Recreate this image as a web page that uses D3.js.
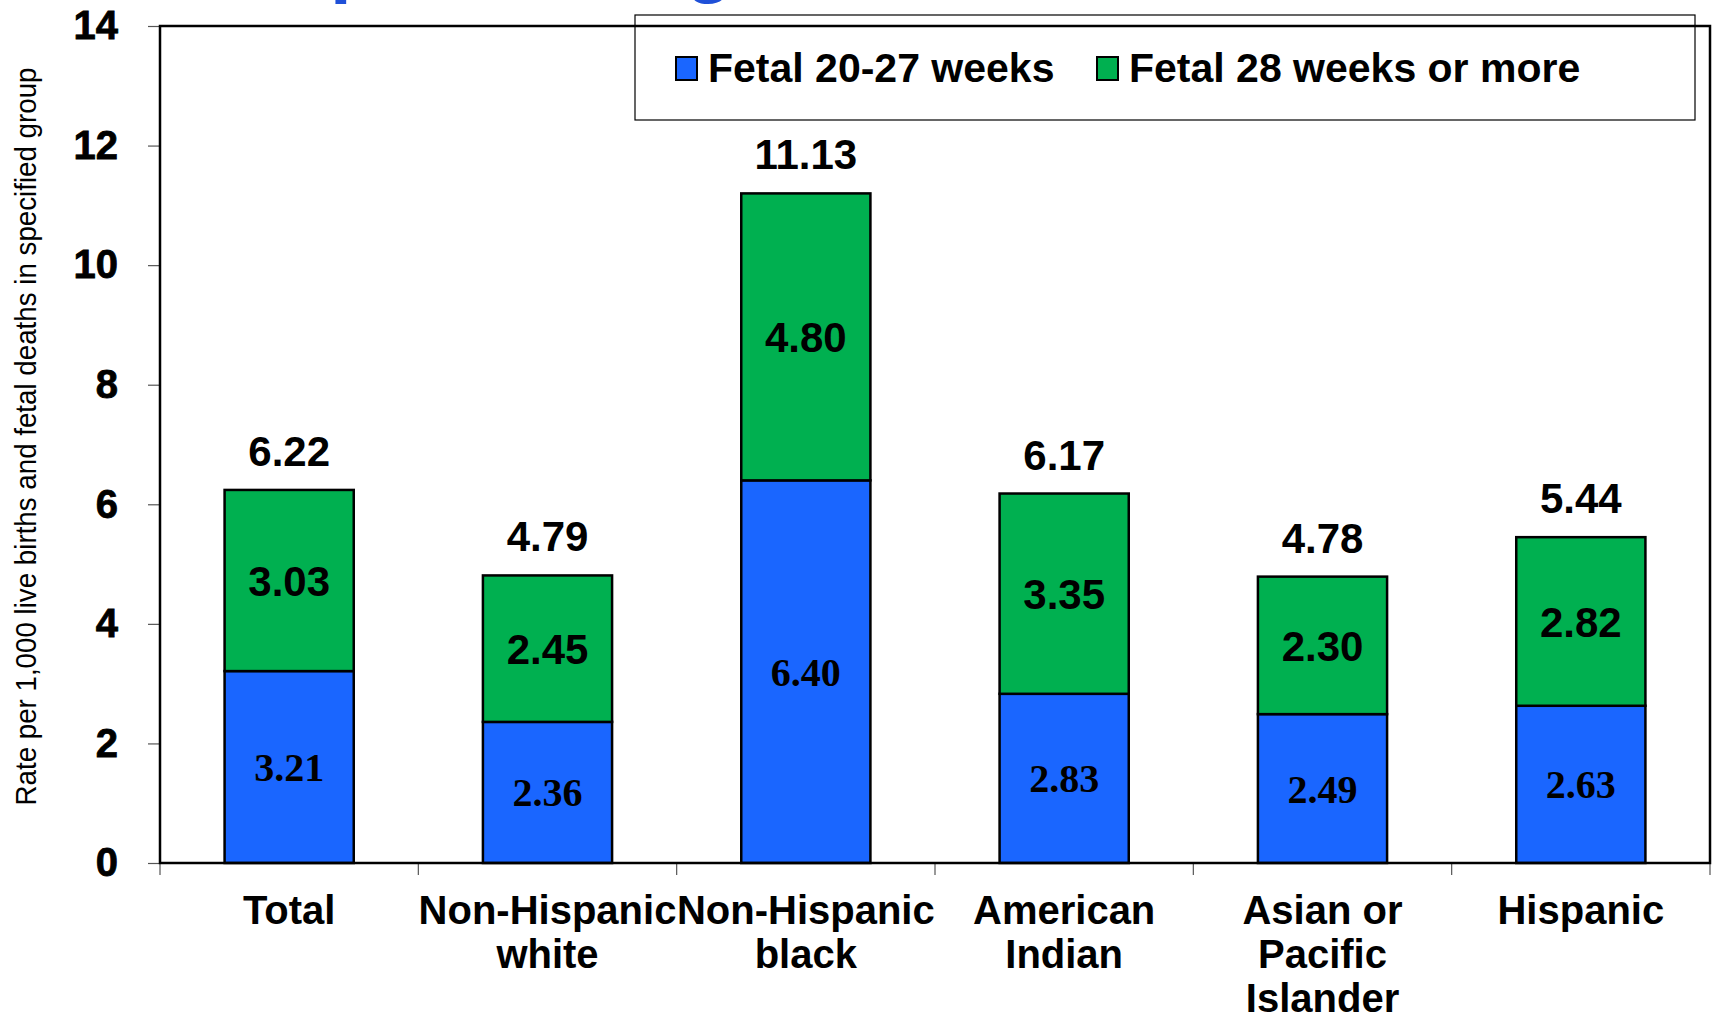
<!DOCTYPE html>
<html>
<head>
<meta charset="utf-8">
<script src="https://cdn.jsdelivr.net/npm/d3@7"></script>
<style>
  html, body { margin: 0; padding: 0; background: #fff; }
  svg { display: block; font-family: Arial, "Liberation Sans", sans-serif; }
</style>
</head>
<body>
<div id="chart"></div>
<script>
/* data */
const categories = ["Total", "Non-Hispanic\nwhite", "Non-Hispanic\nblack", "American\nIndian", "Asian or\nPacific\nIslander", "Hispanic"];
const fetalEarly = [3.21, 2.36, 6.40, 2.83, 2.49, 2.63];
const fetalLate = [3.03, 2.45, 4.80, 3.35, 2.30, 2.82];
const totals = [6.22, 4.79, 11.13, 6.17, 4.78, 5.44];
const yTicks = [0, 2, 4, 6, 8, 10, 12, 14];
const seriesNames = ["Fetal 20-27 weeks", "Fetal 28 weeks or more"];
const seriesColors = ["#1a66ff", "#00b050"];

/* layout */
let width = 1714;
let height = 1016;
let margin = {top: 26, bottom: 153, left: 160, right: 4};
let pWidth = width - margin.left - margin.right;
let pHeight = height - margin.top - margin.bottom;

let sans = "Arial, 'Liberation Sans', sans-serif";
let serif = "'Times New Roman', 'Liberation Serif', serif";
let narrow = "'Liberation Sans Narrow', 'Arial Narrow', 'Liberation Sans', sans-serif";

let svg = d3.select("#chart")
            .append("svg")
              .attr("width", width)
              .attr("height", height);

// cut-off slide title at the very top
svg.append("text")
   .attr("x", 330)
   .attr("y", -12)
   .attr("fill", "#1f50d8")
   .attr("font-weight", "bold")
   .attr("font-size", 78)
   .text("period of gestation");

let xScale = d3.scaleBand()
               .domain(categories)
               .range([margin.left, margin.left + pWidth]);

let yScale = d3.scaleLinear()
               .domain([0, 14])
               .range([margin.top + pHeight, margin.top]);

let barW = xScale.bandwidth() * 0.5;

// stacked rows
let rows = categories.map((c, i) => ({cat: c, early: fetalEarly[i], late: fetalLate[i], total: totals[i]}));
let stack = d3.stack().keys(["early", "late"])(rows);

// y axis
let yAxis = svg.append("g")
               .attr("transform", `translate(${margin.left}, 0)`)
               .call(d3.axisLeft(yScale).tickValues(yTicks).tickSize(12).tickPadding(30).tickFormat(d3.format("d")));
yAxis.select(".domain").remove();
yAxis.selectAll("line").attr("stroke", "#555").attr("stroke-width", 1.2);
yAxis.selectAll("text")
     .attr("fill", "#000")
     .style("font-family", sans)
     .style("font-size", "40px")
     .style("font-weight", "900")
     .style("stroke", "#000")
     .style("stroke-width", "0.8px");

// x axis ticks at band edges
let edges = categories.map(c => xScale(c)).concat([margin.left + pWidth]);
svg.append("g")
   .selectAll("line")
   .data(edges)
   .enter()
   .append("line")
     .attr("x1", d => d)
     .attr("x2", d => d)
     .attr("y1", yScale(0))
     .attr("y2", yScale(0) + 12)
     .attr("stroke", "#555")
     .attr("stroke-width", 1.2);

// bars
let layers = svg.append("g")
                .selectAll("g")
                .data(stack)
                .enter()
                .append("g")
                  .attr("fill", (d, i) => seriesColors[i]);

layers.selectAll("rect")
      .data(d => d)
      .enter()
      .append("rect")
        .attr("x", d => xScale(d.data.cat) + (xScale.bandwidth() - barW) / 2)
        .attr("y", d => yScale(d[1]))
        .attr("width", barW)
        .attr("height", d => yScale(d[0]) - yScale(d[1]))
        .attr("stroke", "#000")
        .attr("stroke-width", 2.5);

// plot frame
svg.append("rect")
   .attr("x", margin.left)
   .attr("y", margin.top)
   .attr("width", pWidth)
   .attr("height", pHeight)
   .attr("fill", "none")
   .attr("stroke", "#000")
   .attr("stroke-width", 2.5);

// segment labels
let cx = d => xScale(d.data.cat) + xScale.bandwidth() / 2;

svg.append("g")
   .selectAll("text")
   .data(stack[0])
   .enter()
   .append("text")
     .attr("x", cx)
     .attr("y", d => yScale((d[0] + d[1]) / 2))
     .attr("dy", "0.35em")
     .attr("text-anchor", "middle")
     .style("font-family", serif)
     .style("font-weight", "bold")
     .style("font-size", "40px")
     .text(d => d.data.early.toFixed(2));

svg.append("g")
   .selectAll("text")
   .data(stack[1])
   .enter()
   .append("text")
     .attr("x", cx)
     .attr("y", d => yScale((d[0] + d[1]) / 2))
     .attr("dy", "0.36em")
     .attr("text-anchor", "middle")
     .attr("font-weight", "bold")
     .attr("font-size", 42)
     .text(d => d.data.late.toFixed(2));

// totals above bars
svg.append("g")
   .selectAll("text")
   .data(stack[1])
   .enter()
   .append("text")
     .attr("x", cx)
     .attr("y", d => yScale(d[1]) - 24)
     .attr("text-anchor", "middle")
     .attr("font-weight", "bold")
     .attr("font-size", 42)
     .text(d => d.data.total.toFixed(2));

// category labels
let catLabels = svg.append("g")
                   .selectAll("text")
                   .data(categories)
                   .enter()
                   .append("text")
                     .attr("x", d => xScale(d) + xScale.bandwidth() / 2)
                     .attr("y", yScale(0) + 61)
                     .attr("text-anchor", "middle")
                     .attr("font-weight", "bold")
                     .attr("font-size", 40);

catLabels.selectAll("tspan")
         .data(d => d.split("\n"))
         .enter()
         .append("tspan")
           .attr("x", function() { return this.parentNode.getAttribute("x"); })
           .attr("dy", (d, i) => i === 0 ? 0 : 44)
           .text(d => d);

// y axis title
svg.append("text")
   .attr("transform", `translate(36, ${margin.top + pHeight / 2 - 8}) rotate(-90)`)
   .attr("text-anchor", "middle")
   .attr("textLength", 738)
   .attr("lengthAdjust", "spacingAndGlyphs")
   .style("font-family", narrow)
   .style("font-size", "29px")
   .text("Rate per 1,000 live births and fetal deaths in specified group");

// legend
let legend = svg.append("g");
legend.append("rect")
      .attr("x", 635)
      .attr("y", 15)
      .attr("width", 1060)
      .attr("height", 105)
      .attr("fill", "none")
      .attr("stroke", "#000")
      .attr("stroke-width", 1.2);

let legendX = [676, 1097];
let items = legend.selectAll("g")
                  .data(seriesNames)
                  .enter()
                  .append("g")
                    .attr("transform", (d, i) => `translate(${legendX[i]}, 57)`);
items.append("rect")
     .attr("width", 21)
     .attr("height", 23)
     .attr("fill", (d, i) => seriesColors[i])
     .attr("stroke", "#000")
     .attr("stroke-width", 2);
items.append("text")
     .attr("x", 32)
     .attr("y", 25)
     .attr("font-weight", "bold")
     .attr("font-size", 41)
     .text(d => d);
</script>
</body>
</html>
